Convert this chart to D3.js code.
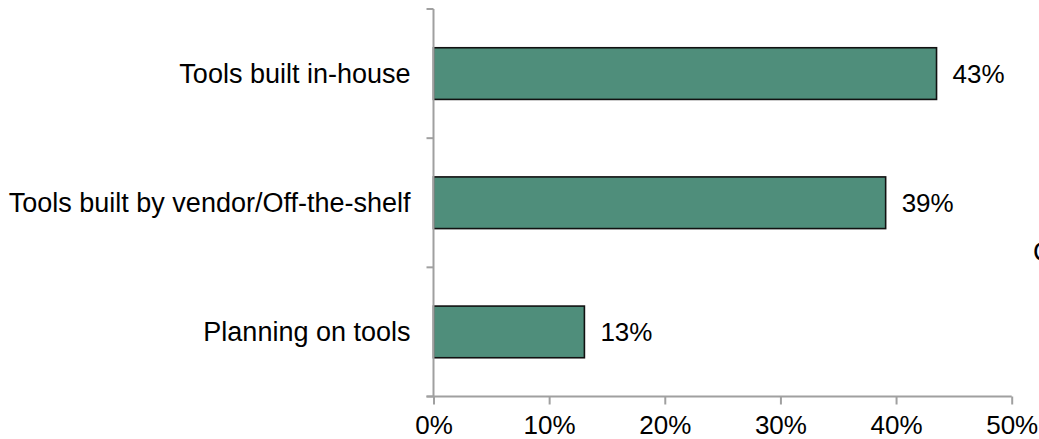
<!DOCTYPE html>
<html>
<head>
<meta charset="utf-8">
<script src="https://cdn.jsdelivr.net/npm/d3@7"></script>
<style>
  html, body { margin: 0; padding: 0; background: #fff; }
  svg { display: block; }
  text { font-family: "Liberation Sans", Arial, sans-serif; fill: #000; }
</style>
</head>
<body>
<svg id="chart" width="1039" height="439"></svg>
<script>
const categories = ["Tools built in-house", "Tools built by vendor/Off-the-shelf", "Planning on tools"];
const values = [43.5, 39.1, 13.05];
const valueLabels = ["43%", "39%", "13%"];
const xTicks = [0, 10, 20, 30, 40, 50];
const sideText = ["C"];

const svg = d3.select("#chart");
const mLeft = 433.5, mRight = 1011.7, mTop = 9, mBottom = 396.5;
const fsCat = 27, fsNum = 26;

const x = d3.scaleLinear().domain([0, 50]).range([mLeft, mRight]);
const y = d3.scaleBand().domain(categories).range([mTop, mBottom]).paddingInner(0.6).paddingOuter(0.3);

const axisColor = "#a0a0a0";

// bars
svg.append("g").selectAll("rect").data(categories).join("rect")
  .attr("x", x(0))
  .attr("y", d => y(d))
  .attr("width", (d, i) => x(values[i]) - x(0))
  .attr("height", y.bandwidth())
  .attr("fill", "#4f8e7b")
  .attr("stroke", "#111")
  .attr("stroke-width", 1.6);

// x axis
const xAxis = svg.append("g").attr("transform", `translate(0,${mBottom})`)
  .call(d3.axisBottom(x).tickValues(xTicks).tickFormat(d => d + "%").tickSizeInner(8).tickSizeOuter(0).tickPadding(11));
xAxis.select(".domain").attr("stroke", axisColor).attr("stroke-width", 2).attr("d", `M${mLeft - 7},0H${mRight}`);
xAxis.selectAll(".tick line").attr("stroke", axisColor).attr("stroke-width", 2);
xAxis.selectAll(".tick text").attr("font-size", fsNum).attr("font-family", "Liberation Sans, Arial, sans-serif").attr("fill", "#000");

// y axis: band boundaries as ticks
const yBounds = [0, 1, 2, 3].map(i => mTop + i * (mBottom - mTop) / 3);
const yAxisG = svg.append("g");
yAxisG.append("line").attr("x1", mLeft).attr("x2", mLeft).attr("y1", mTop).attr("y2", mBottom)
  .attr("stroke", axisColor).attr("stroke-width", 2);
yAxisG.selectAll("line.tk").data(yBounds).join("line").attr("class", "tk")
  .attr("x1", mLeft - 7).attr("x2", mLeft).attr("y1", d => d).attr("y2", d => d)
  .attr("stroke", axisColor).attr("stroke-width", 2);

// category labels
svg.append("g").selectAll("text").data(categories).join("text")
  .attr("x", mLeft - 23)
  .attr("y", d => y(d) + y.bandwidth() / 2)
  .attr("dy", "0.35em")
  .attr("text-anchor", "end")
  .attr("font-size", fsCat)
  .text(d => d);

// value labels
svg.append("g").selectAll("text").data(categories).join("text")
  .attr("x", (d, i) => x(values[i]) + 16)
  .attr("y", d => y(d) + y.bandwidth() / 2)
  .attr("dy", "0.35em")
  .attr("font-size", fsNum)
  .text((d, i) => valueLabels[i]);

// clipped side text (cut off at the right edge, as in the reference)
svg.append("text").attr("x", 1033).attr("y", 261).attr("font-size", fsCat).text(sideText[0]);
</script>
</body>
</html>
